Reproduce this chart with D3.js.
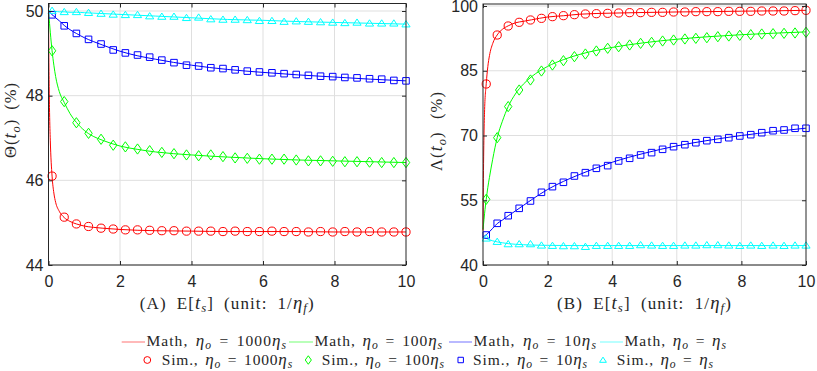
<!DOCTYPE html>
<html>
<head>
<meta charset="utf-8">
<script src="https://cdn.jsdelivr.net/npm/d3@7"></script>
<style>
  body { margin: 0; background: #fff; }
  svg { display: block; }
  .serif { font-family: "Liberation Serif", "Times New Roman", serif; fill: #262626; }
</style>
</head>
<body>
<svg id="chart" width="817" height="371"></svg>
<script>
// ---- data ----
const simX = [0.10, 0.44, 0.78, 1.12, 1.47, 1.81, 2.15, 2.49, 2.83, 3.17, 3.51, 3.86, 4.20, 4.54, 4.88,
              5.22, 5.56, 5.90, 6.25, 6.59, 6.93, 7.27, 7.61, 7.95, 8.29, 8.63, 8.98, 9.32, 9.66, 10.00];
const mathX = [0, 0.01, 0.03, 0.05, 0.1, 0.15, 0.2, 0.3, 0.44, 0.6, 0.78, 1, 1.25, 1.5, 2, 2.5, 3, 4, 5, 6, 7, 8, 9, 10];

// (A) Theta(t_o)
const thetaMath1000 = [50, 48.9, 47.6, 46.95, 46.1, 45.7, 45.48, 45.27, 45.12, 45.03, 44.97, 44.92, 44.89, 44.87, 44.84, 44.82, 44.81, 44.80, 44.79, 44.79, 44.79, 44.78, 44.78, 44.78];
const thetaMath100  = [50, 49.9, 49.7, 49.5, 49.06, 48.72, 48.45, 48.1, 47.84, 47.58, 47.37, 47.18, 47.04, 46.95, 46.81, 46.73, 46.67, 46.60, 46.55, 46.51, 46.48, 46.46, 46.44, 46.42];
const thetaMath10   = [50, 49.99, 49.98, 49.96, 49.91, 49.88, 49.84, 49.77, 49.66, 49.56, 49.47, 49.37, 49.28, 49.2, 49.05, 48.94, 48.86, 48.72, 48.62, 48.55, 48.49, 48.44, 48.39, 48.35];
const thetaMath1    = [50, 50, 50, 50, 49.99, 49.99, 49.99, 49.98, 49.98, 49.97, 49.97, 49.96, 49.95, 49.94, 49.92, 49.9, 49.88, 49.84, 49.80, 49.78, 49.75, 49.73, 49.71, 49.69];

const thetaSim1000 = [46.10, 45.13, 44.97, 44.91, 44.87, 44.85, 44.83, 44.83, 44.82, 44.81, 44.81, 44.80, 44.80, 44.80, 44.79,
                      44.80, 44.79, 44.79, 44.80, 44.79, 44.79, 44.78, 44.79, 44.78, 44.79, 44.78, 44.79, 44.78, 44.78, 44.78];
const thetaSim100  = [49.06, 47.86, 47.36, 47.11, 46.97, 46.83, 46.79, 46.74, 46.70, 46.66, 46.63, 46.60, 46.58, 46.60, 46.56,
                      46.53, 46.52, 46.50, 46.50, 46.50, 46.48, 46.46, 46.46, 46.45, 46.44, 46.44, 46.43, 46.42, 46.42, 46.42];
const thetaSim10   = [49.91, 49.65, 49.47, 49.33, 49.22, 49.08, 49.01, 48.96, 48.91, 48.84, 48.78, 48.72, 48.70, 48.66, 48.64,
                      48.61, 48.58, 48.56, 48.54, 48.52, 48.50, 48.48, 48.46, 48.45, 48.43, 48.42, 48.40, 48.39, 48.36, 48.35];
const thetaSim1    = [50.01, 49.98, 49.98, 49.96, 49.94, 49.92, 49.91, 49.91, 49.88, 49.87, 49.87, 49.84, 49.85, 49.81, 49.80,
                      49.80, 49.79, 49.77, 49.77, 49.75, 49.76, 49.75, 49.74, 49.73, 49.72, 49.73, 49.71, 49.71, 49.71, 49.69];

// (B) Lambda(t_o)
const lambdaMath1000 = [48, 58, 70, 76, 82, 86, 88.5, 91.3, 93.3, 94.6, 95.4, 96.1, 96.45, 96.8, 97.45, 97.75, 98.1, 98.35, 98.5, 98.62, 98.7, 98.8, 98.88, 99.0];
const lambdaMath100  = [48.3, 49, 50.5, 52, 55.2, 58, 60.3, 64.5, 69.5, 73.3, 76.7, 79.6, 81.9, 83.6, 86.0, 87.6, 88.8, 90.4, 91.5, 92.3, 92.9, 93.35, 93.7, 94.0];
const lambdaMath10   = [46.5, 46.55, 46.65, 46.75, 47.0, 47.35, 47.7, 48.5, 49.6, 50.4, 51.4, 52.5, 53.8, 55.1, 57.5, 59.4, 61.0, 63.8, 65.9, 67.6, 68.9, 70.0, 70.9, 71.7];
const lambdaMath1    = [46.5, 46.45, 46.35, 46.3, 46.15, 46.0, 45.85, 45.6, 45.35, 45.15, 44.95, 44.8, 44.7, 44.62, 44.55, 44.52, 44.5, 44.5, 44.5, 44.5, 44.5, 44.5, 44.5, 44.5];

const lambdaSim1000 = [81.93, 93.28, 95.37, 96.22, 96.76, 97.14, 97.53, 97.76, 97.99, 98.15, 98.22, 98.30, 98.38, 98.46, 98.46,
                       98.53, 98.53, 98.61, 98.61, 98.69, 98.69, 98.69, 98.76, 98.76, 98.76, 98.84, 98.84, 98.84, 98.92, 99.00];
const lambdaSim100  = [55.22, 69.50, 76.70, 80.54, 82.86, 84.94, 86.33, 87.33, 88.26, 88.88, 89.58, 90.20, 90.57, 90.97, 91.35,
                       91.58, 91.89, 92.12, 92.36, 92.51, 92.66, 92.89, 93.05, 93.20, 93.36, 93.51, 93.59, 93.67, 93.75, 93.90];
const lambdaSim10   = [46.95, 49.66, 51.42, 53.13, 54.83, 56.84, 58.15, 59.16, 60.62, 61.39, 62.40, 63.02, 64.10, 64.72, 65.49,
                       66.03, 66.80, 67.41, 67.87, 68.33, 68.80, 69.11, 69.49, 69.89, 70.19, 70.65, 71.11, 71.28, 71.67, 71.67];
const lambdaSim1    = [46.19, 45.41, 44.87, 44.87, 44.87, 44.56, 44.48, 44.41, 44.41, 44.25, 44.48, 44.48, 44.48, 44.48, 44.64,
                       44.56, 44.48, 44.48, 44.56, 44.56, 44.64, 44.64, 44.56, 44.48, 44.56, 44.48, 44.56, 44.48, 44.56, 44.56];

const xTicks = [0, 2, 4, 6, 8, 10];
const thetaTicks = [44, 46, 48, 50];
const lambdaTicks = [40, 55, 70, 85, 100];
const ratioLabels = ['1000', '100', '10', ''];   // eta_o = (ratio) eta_s

// ---- styling ----
const COLORS = ['#ff0000', '#00ff00', '#0000ff', '#00ffff'];
const SHAPES = ['circle', 'diamond', 'square', 'triangle'];
const AX = '#262626';
const GRID = '#dfdfdf';
const SANS = '"Liberation Sans", Arial, Helvetica, sans-serif';

const SVG = d3.select('#chart');

// LaTeX-ish text: [text, kind] kind: '' roman, 'i' italic (math, a bit larger), 'si' italic subscript
function rich(sel, parts, size) {
  sel.style('font-size', size + 'px');
  let shift = 0;
  parts.forEach(([txt, kind]) => {
    const t = sel.append('tspan').text(txt);
    const want = kind === 'si' ? size * 0.22 : 0;
    if (want - shift !== 0) t.attr('dy', want - shift);
    shift = want;
    if (kind === 'i' || kind === 'si') t.style('font-style', 'italic');
    if (kind === 'i') t.style('font-size', (size * 1.1) + 'px');
    if (kind === 'si') t.style('font-size', (size * 0.75) + 'px');
  });
  return sel;
}
// widen to the reference's width: mostly letter spacing, the rest in the word gaps
function fitText(parent, attrs, parts, target, size) {
  const t = parent.append('text').attr('class', 'serif');
  Object.entries(attrs).forEach(([k, v]) => t.attr(k, v));
  rich(t, parts, size);
  const all = parts.map(p => p[0]).join('');
  const nSp = (all.match(/ /g) || []).length;
  const extra = target - t.node().getComputedTextLength();
  if (extra > 0) {
    const ls = Math.min(1.1, extra * 0.7 / all.length);
    t.style('letter-spacing', ls + 'px');
    const rest = target - t.node().getComputedTextLength();
    if (nSp > 0 && rest > 0) t.style('word-spacing', (rest / nSp) + 'px');
  }
  return t;
}

function markerPath(shape, s) {
  if (shape === 'circle') return `M${s},0A${s},${s} 0 1,1 ${-s},0A${s},${s} 0 1,1 ${s},0Z`;
  if (shape === 'diamond') { const w = s * 0.9, h = s * 1.25; return `M0,${-h}L${w},0L0,${h}L${-w},0Z`; }
  if (shape === 'square') { const a = s * 0.8; return `M${-a},${-a}H${a}V${a}H${-a}Z`; }
  const w = s * 1.0, h = s * 0.85;
  return `M0,${-h}L${w},${h * 0.8}L${-w},${h * 0.8}Z`;
}

function drawPanel(cfg) {
  const x = d3.scaleLinear().domain([0, 10]).range([cfg.left, cfg.right]);
  const y = d3.scaleLinear().domain(cfg.yDomain).range(cfg.yRange);
  const g = SVG.append('g');

  // grid
  g.selectAll(null).data(xTicks.slice(1, -1)).enter().append('line')
    .attr('x1', d => x(d)).attr('x2', d => x(d)).attr('y1', cfg.top).attr('y2', cfg.bottom)
    .attr('stroke', GRID).attr('stroke-width', 1);
  g.selectAll(null).data(cfg.yTicks).enter().append('line')
    .attr('x1', cfg.left).attr('x2', cfg.right).attr('y1', d => y(d)).attr('y2', d => y(d))
    .attr('stroke', GRID).attr('stroke-width', 1);

  // math lines
  const line = d3.line().x((d, i) => x(mathX[i])).y(d => y(d)).curve(d3.curveMonotoneX);
  cfg.math.forEach((ser, k) => {
    g.append('path').attr('d', line(ser)).attr('fill', 'none')
      .attr('stroke', COLORS[k]).attr('stroke-width', 1);
  });
  // sim markers
  cfg.sim.forEach((ser, k) => {
    g.selectAll(null).data(ser).enter().append('path')
      .attr('transform', (d, i) => `translate(${x(simX[i])},${y(d)})`)
      .attr('d', markerPath(SHAPES[k], 4.1))
      .attr('fill', 'none').attr('stroke', COLORS[k]).attr('stroke-width', 1);
  });

  // box + inward ticks
  g.append('rect').attr('x', cfg.left).attr('y', cfg.top)
    .attr('width', cfg.right - cfg.left).attr('height', cfg.bottom - cfg.top)
    .attr('fill', 'none').attr('stroke', AX).attr('stroke-width', 1);

  const fmt = d3.format('d');
  const xb = g.append('g').attr('transform', `translate(0,${cfg.bottom})`)
    .call(d3.axisBottom(x).tickValues(xTicks).tickFormat(fmt).tickSize(-4).tickSizeOuter(0).tickPadding(11));
  const xt = g.append('g').attr('transform', `translate(0,${cfg.top})`)
    .call(d3.axisTop(x).tickValues(xTicks).tickSize(-4).tickSizeOuter(0).tickFormat(''));
  const yl = g.append('g').attr('transform', `translate(${cfg.left},0)`)
    .call(d3.axisLeft(y).tickValues(cfg.yTicks).tickFormat(fmt).tickSize(-4).tickSizeOuter(0).tickPadding(5));
  const yr = g.append('g').attr('transform', `translate(${cfg.right},0)`)
    .call(d3.axisRight(y).tickValues(cfg.yTicks).tickSize(-4).tickSizeOuter(0).tickFormat(''));
  [xb, xt, yl, yr].forEach(a => {
    a.attr('font-size', null).attr('font-family', null);
    a.select('.domain').remove();
    a.selectAll('.tick line').attr('stroke', AX);
    a.selectAll('.tick text').attr('fill', AX)
      .style('font-family', SANS).style('font-size', '16px');
  });

  // x label
  fitText(g, { x: (cfg.left + cfg.right) / 2, y: 308.5, 'text-anchor': 'middle' },
    [[cfg.tag + ' E[', ''], ['t', 'i'], ['s', 'si'], ['] (unit: 1/', ''], ['η', 'i'], ['f', 'si'], [')', '']],
    175, 17);
  // y label
  fitText(g, { transform: `translate(${cfg.yLabelX},${cfg.yLabelY}) rotate(-90)`, 'text-anchor': 'middle' },
    [[cfg.yName + '(', ''], ['t', 'i'], ['o', 'si'], [') (%)', '']],
    cfg.yLabelW, 16.5);
}

drawPanel({
  tag: '(A)', yName: 'Θ', left: 48.5, right: 406, top: 3.5, bottom: 265,
  yDomain: [44, 50], yRange: [265, 11], yTicks: thetaTicks, yLabelX: 16, yLabelY: 120, yLabelW: 76,
  math: [thetaMath1000, thetaMath100, thetaMath10, thetaMath1],
  sim: [thetaSim1000, thetaSim100, thetaSim10, thetaSim1]
});
drawPanel({
  tag: '(B)', yName: 'Λ', left: 483, right: 806, top: 4, bottom: 265,
  yDomain: [40, 100], yRange: [265, 6], yTicks: lambdaTicks, yLabelX: 442, yLabelY: 131, yLabelW: 80,
  math: [lambdaMath1000, lambdaMath100, lambdaMath10, lambdaMath1],
  sim: [lambdaSim1000, lambdaSim100, lambdaSim10, lambdaSim1]
});

// ---- legend (two rows) ----
const mathLeg = [[121.7, 145, 287], [289, 313, 443], [449, 472, 597], [600, 623, 727]]; // line x1, x2, text end
const simLeg  = [[147.3, 161.7, 293], [308.3, 321.7, 445], [460.7, 473, 588], [603, 616.7, 714]]; // marker x, text start, text end
const leg = SVG.append('g');

function legendText(xs, xe, yb, head, ratio) {
  fitText(leg, { x: xs, y: yb },
    [[head + ', ', ''], ['η', 'i'], ['o', 'si'], [' = ' + ratio, ''], ['η', 'i'], ['s', 'si']],
    xe - xs, 15.5);
}

ratioLabels.forEach((r, k) => {
  const [x1, x2, xe] = mathLeg[k];
  leg.append('line').attr('x1', x1).attr('x2', x2).attr('y1', 342).attr('y2', 342)
    .attr('stroke', COLORS[k]).attr('stroke-width', 1).attr('stroke-opacity', 0.55);
  legendText(x2 + 1.5, xe, 346, 'Math', r);

  const [mx, xs, xe2] = simLeg[k];
  leg.append('path').attr('transform', `translate(${mx},360)`)
    .attr('d', markerPath(SHAPES[k], 3.4))
    .attr('fill', 'none').attr('stroke', COLORS[k]).attr('stroke-width', 1);
  legendText(xs, xe2, 364.5, 'Sim.', r);
});
</script>
</body>
</html>
